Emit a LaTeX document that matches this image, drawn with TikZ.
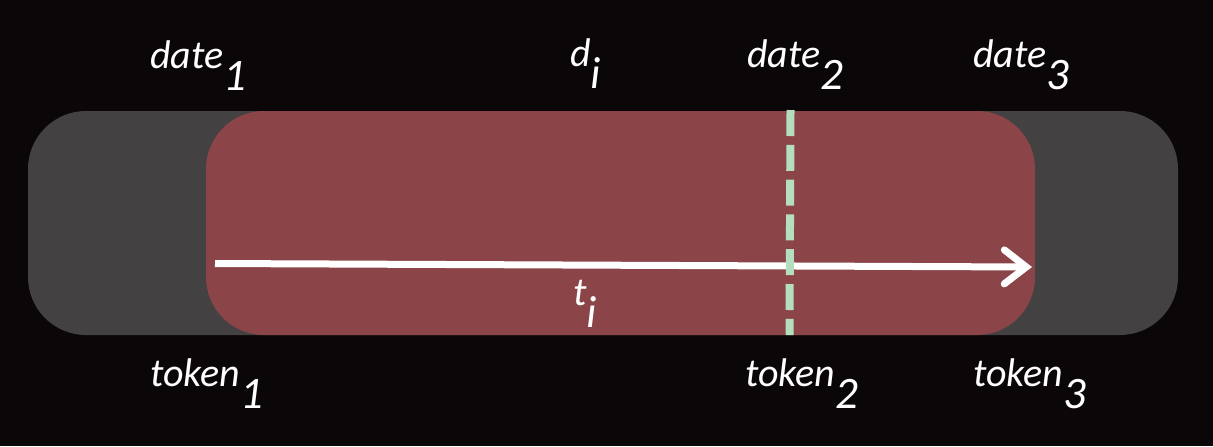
\documentclass[tikz,border=0pt]{standalone}
\usepackage{fontspec}
\setmainfont{Carlito}
\usetikzlibrary{arrows.meta}
\definecolor{bgdark}{HTML}{0B0709}
\definecolor{bargray}{HTML}{444142}
\definecolor{spanred}{HTML}{8B4548}
\definecolor{cutgreen}{HTML}{B5DDBF}
\newcommand{\sublabel}[2]{#1\raisebox{-11pt}{\fontsize{22.5}{26}\selectfont #2}}
\begin{document}
\begin{tikzpicture}[x=0.5pt, y=-0.5pt,
    lbl/.style={anchor=base west, inner sep=0pt, text=white, font=\fontsize{20}{24}\selectfont\itshape},
    timeline/.style={white, line width=3.5pt, -{Straight Barb[length=11pt, width=17pt, line cap=round]}},
    cut/.style={cutgreen, line width=4pt, dash pattern=on 13pt off 4.4pt}]
      \fill [bgdark] (0, 0) rectangle (1213, 446);
      \fill [bargray, rounded corners=29pt] (28, 111) rectangle (1178, 335);
      \fill [spanred, rounded corners=29pt] (206, 111) rectangle (1035, 335);
      \coordinate (tstart) at (215, 263.5);
      \coordinate (tend) at (1032, 267);
      \draw [timeline] (tstart) -- (tend);
      \coordinate (cuttop) at (790.5, 110);
      \coordinate (cutbot) at (789.5, 335);
      \draw [cut] (cuttop) -- (cutbot);
      \foreach \n/\w/\s/\x/\y in {date1/date/1/150/68, di/d/i/570/66, date2/date/2/747/67, date3/date/3/973/67, ti/t/i/573/305, token1/token/1/150/386, token2/token/2/745/386, token3/token/3/973/386}{
        \node [lbl] (\n) at (\x, \y) {\sublabel{\w}{\s}};
      }
    \end{tikzpicture}
\end{document}
